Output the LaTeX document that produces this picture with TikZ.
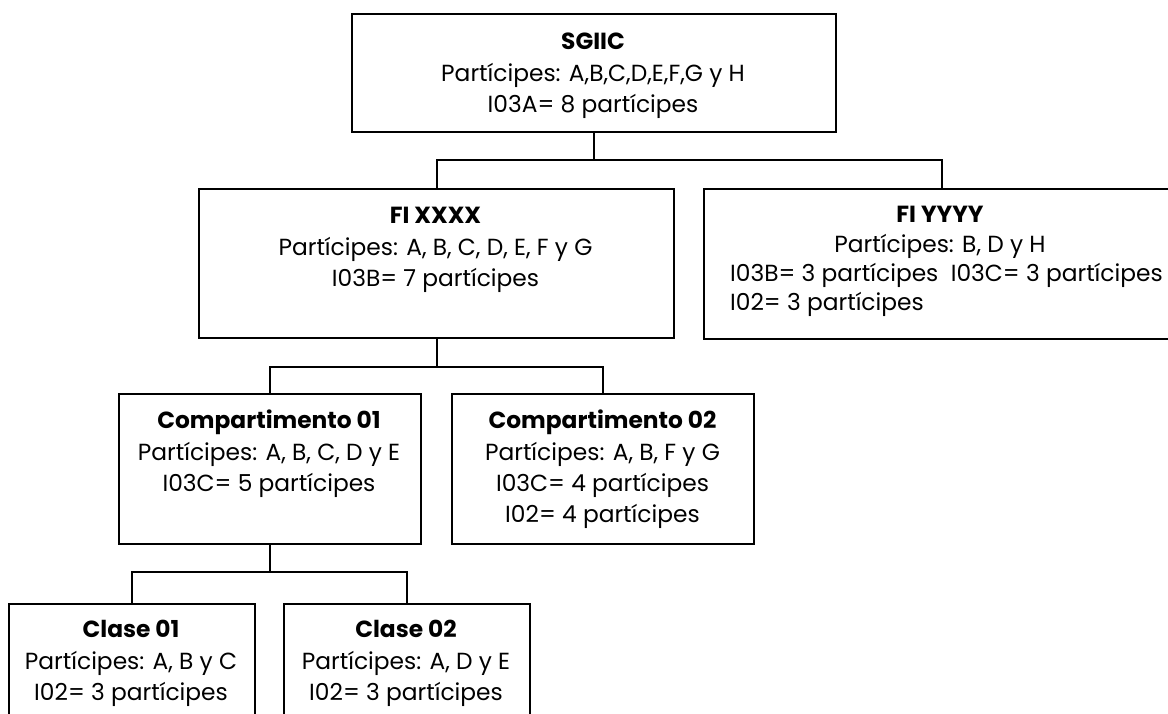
\documentclass[tikz,border=0pt]{standalone}
\usepackage{fontspec}
\setmainfont{Poppins}
\newlength\mesA
\newlength\mesB
\AtBeginDocument{%
\settowidth\mesA{\fontsize{10pt}{12pt}\selectfont Partícipes: B, D y H}%
\settowidth\mesB{\fontsize{10pt}{12pt}\selectfont I02= 3 partícipes}%
\pgfmathsetmacro\fsA{2150/\mesA}%
\pgfmathsetmacro\fsB{1900/\mesB}%
\pgfmathsetmacro\fs{(\fsA+\fsB)/2}%
\global\let\fs\fs}
\begin{document}
\begin{tikzpicture}[x=1pt,y=-1pt]
\tikzset{
  box/.style={draw=black, line width=2.4pt, rectangle, inner sep=0pt, anchor=north west},
  txt/.style={anchor=north, align=center, inner sep=0pt, font=\fontsize{\fs pt}{31pt}\selectfont},
  ltxt/.style={anchor=north west, align=left, inner sep=0pt, font=\fontsize{\fs pt}{29pt}\selectfont},
  conn/.style={draw=black, line width=2.4pt}}
\useasboundingbox (0,0) rectangle (1168,713);
\clip (0,0) rectangle (1168,713);
% boxes
\node[box, minimum width=484pt, minimum height=118pt] (sgiic) at (351,13) {};
\node[box, minimum width=475pt, minimum height=149pt] (fix) at (198,188) {};
\node[box, minimum width=475pt, minimum height=150pt] (fiy) at (703,188) {};
\node[box, minimum width=302pt, minimum height=150pt] (c1) at (118,393) {};
\node[box, minimum width=302pt, minimum height=150pt] (c2) at (451,393) {};
\node[box, minimum width=246pt, minimum height=150pt] (k1) at (8,603) {};
\node[box, minimum width=246pt, minimum height=150pt] (k2) at (283,603) {};
% texts (first baseline = top + 35; strut 20pt)
\node[txt] (tsgiic) at (593,29) {\rule{0pt}{20pt}\textbf{SGIIC}\\[1pt] Partícipes: A,B,C,D,E,F,G y H\\ I03A= 8 partícipes};
\node[txt] (tfix) at (435.5,203) {\rule{0pt}{20pt}\textbf{FI XXXX}\\[1pt] Partícipes: A, B, C, D, E, F y G\\ I03B= 7 partícipes};
\node[txt] (tfiy) at (940,202) {\rule{0pt}{20pt}\textbf{FI YYYY}\\[-1pt] Partícipes: B, D y H};
\node[ltxt] (tfiyl) at (730,261) {\rule{0pt}{20pt}I03B= 3 partícipes\ \ I03C= 3 partícipes\\ I02= 3 partícipes};
\node[txt] (tc1) at (269,408) {\rule{0pt}{20pt}\textbf{Compartimento 01}\\[1pt] Partícipes: A, B, C, D y E\\ I03C= 5 partícipes};
\node[txt] (tc2) at (602.5,408) {\rule{0pt}{20pt}\textbf{Compartimento 02}\\[1pt] Partícipes: A, B, F y G\\ I03C= 4 partícipes\\ I02= 4 partícipes};
\node[txt] (tk1) at (131,617) {\rule{0pt}{20pt}\textbf{Clase 01}\\[1pt] Partícipes: A, B y C\\ I02= 3 partícipes};
\node[txt] (tk2) at (406,617) {\rule{0pt}{20pt}\textbf{Clase 02}\\[1pt] Partícipes: A, D y E\\ I02= 3 partícipes};
% bus levels
\coordinate (b1) at (0,160);
\coordinate (b2) at (0,367);
\coordinate (b3) at (0,572);
% connectors
\draw[conn] (sgiic.south) -- (sgiic.south |- b1);
\draw[conn] (fix.north) |- (fiy.north |- b1) -- (fiy.north);
\draw[conn] (fix.south) -- (fix.south |- b2);
\draw[conn] (c1.north) |- (c2.north |- b2) -- (c2.north);
\draw[conn] (c1.south) -- (c1.south |- b3);
\draw[conn] (k1.north) |- (k2.north |- b3) -- (k2.north);
\end{tikzpicture}
\end{document}
